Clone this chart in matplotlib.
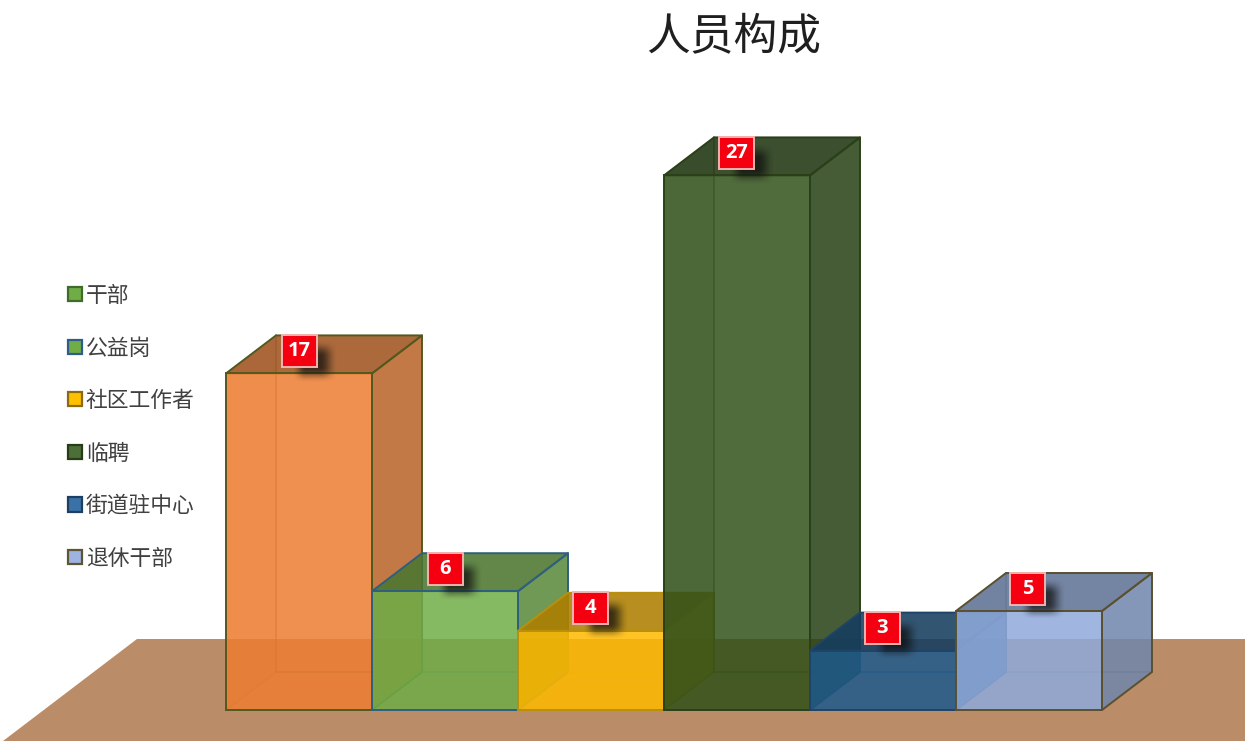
import matplotlib
matplotlib.use("Agg")
import matplotlib.pyplot as plt
import numpy as np
from matplotlib.patches import Polygon, Rectangle, Patch

plt.rcParams['font.family'] = ['Noto Sans CJK SC', 'DejaVu Sans']

TITLE = "人员构成"
categories = ["干部", "公益岗", "社区工作者", "临聘", "街道驻中心", "退休干部"]
values = [17, 6, 4, 27, 3, 5]
bar_colors = ["#ED7D31", "#70AD47", "#FFB900", "#31511A", "#1F5A8C", "#8FAADC"]
edge_colors = ["#52591F", "#2F5F7F", "#B8900C", "#2A4018", "#1F4468", "#5A5030"]
legend_faces = ["#70AD47", "#70AD47", "#FFC000", "#4E6E38", "#3A72A8", "#9DB3E0"]
legend_edges = ["#3F6B2B", "#2F5C8A", "#8B6B10", "#263D16", "#1F3F60", "#5F5535"]

W, H = 1245, 742
PX_X = 146.0      # pixels per bar
PX_Y = 19.8       # pixels per unit
X0, Y0 = 226.0, 710.0

fig = plt.figure(figsize=(W / 100, H / 100), dpi=100, facecolor="white")
ax = fig.add_axes([0, 0, 1, 1])
xlim = (-X0 / PX_X, (W - X0) / PX_X)
ylim = (-(H - Y0) / PX_Y, Y0 / PX_Y)
ax.axis("off")

DX = 50 / PX_X
DY = 38 / PX_Y


def px(x, y):
    return (x - X0) / PX_X, (Y0 - y) / PX_Y


def shade(color, f):
    r, g, b = matplotlib.colors.to_rgb(color)
    return (r * f, g * f, b * f)


def smooth(t):
    t = np.clip(t, 0, 1)
    return t * t * (3 - 2 * t)


# floor
ax.add_patch(Polygon([px(3, 741), px(137, 639), px(1245, 639), px(1245, 741)],
                     closed=True, fc="#BB8C68", ec="none", zorder=1))

z = 2
for i, (v, c, e) in enumerate(zip(values, bar_colors, edge_colors)):
    x0, x1 = i, i + 1
    lw = 1.4
    # back edges
    ax.plot([x0 + DX, x0 + DX, x1 + DX], [v + DY, DY, DY], color=e, lw=1.1, alpha=.6, zorder=z)
    ax.plot([x0, x0 + DX], [0, DY], color=e, lw=1.0, alpha=.3, zorder=z)
    # left face
    ax.add_patch(Polygon([(x0, 0), (x0 + DX, DY), (x0 + DX, v + DY), (x0, v)], closed=True,
                         fc=shade(c, .8), ec="none", alpha=.12, zorder=z))
    # right face
    right = [(x1, 0), (x1 + DX, DY), (x1 + DX, v + DY), (x1, v)]
    ax.add_patch(Polygon(right, closed=True, fc=shade(c, .78), ec="none", alpha=.85, zorder=z + .1))
    ax.add_patch(Polygon(right, closed=True, fc="none", ec=e, lw=lw, zorder=z + .1, joinstyle="round"))
    # top face
    top = [(x0, v), (x0 + DX, v + DY), (x1 + DX, v + DY), (x1, v)]
    ax.add_patch(Polygon(top, closed=True, fc=shade(c, .68), ec="none", alpha=.88, zorder=z + .2))
    ax.add_patch(Polygon(top, closed=True, fc="none", ec=e, lw=lw, zorder=z + .2, joinstyle="round"))
    # front face
    ax.bar(x0, v, width=1, align="edge", color=c, alpha=.85, lw=0, zorder=z + .3)
    ax.bar(x0, v, width=1, align="edge", color="none", edgecolor=e, lw=lw, zorder=z + .3)
    z += 1

# value labels
LW, LH = 35 / PX_X, 32 / PX_Y
LIFT = 22.5 / PX_Y
STEP = 145.6 / PX_X
for i, v in enumerate(values):
    cx = .505 + i * STEP
    cy = v + LIFT
    # soft shadow (blurred box, offset to lower right)
    sx = np.linspace(-14, 42, 112)
    sy = np.linspace(-18, 38, 112)
    ax_s = smooth((sx + 8) / 14) * smooth((38 - sx) / 18)
    ay_s = smooth((sy + 10) / 16) * smooth((32 - sy) / 16)
    rgba = np.zeros((sy.size, sx.size, 4))
    rgba[..., :3] = .05
    rgba[..., 3] = .72 * np.outer(ay_s, ax_s)
    ax.imshow(rgba, extent=(cx + sx[0] / PX_X, cx + sx[-1] / PX_X, cy - sy[-1] / PX_Y, cy - sy[0] / PX_Y),
              origin="upper", aspect="auto", interpolation="bilinear", zorder=50)
    ax.add_patch(Rectangle((cx - LW / 2, cy - LH / 2), LW, LH, fc="#F50010", ec="#F4B4B0", lw=1.4, zorder=51))
    ax.text(cx, cy, str(v), color="white", fontsize=14.5, fontweight="bold", family="Open Sans",
            ha="center", va="center", zorder=52)

ax.set_xlim(*xlim)
ax.set_ylim(*ylim)

# title
ax.text(*px(734, 36), TITLE, fontsize=31.5, color="#1f1f1f", ha="center", va="center", zorder=60)

# legend
handles = [Patch(facecolor=f, edgecolor=ed, linewidth=1.6) for f, ed in zip(legend_faces, legend_edges)]
leg = ax.legend(handles, categories, loc="upper left", bbox_to_anchor=(68 / W, 1 - 285 / H),
                frameon=False, fontsize=15.7, labelcolor="#404040", borderpad=0, borderaxespad=0,
                handlelength=.62, handleheight=.62, handletextpad=.2, labelspacing=1.40)

fig.savefig("out.png", dpi=100, facecolor="white")
